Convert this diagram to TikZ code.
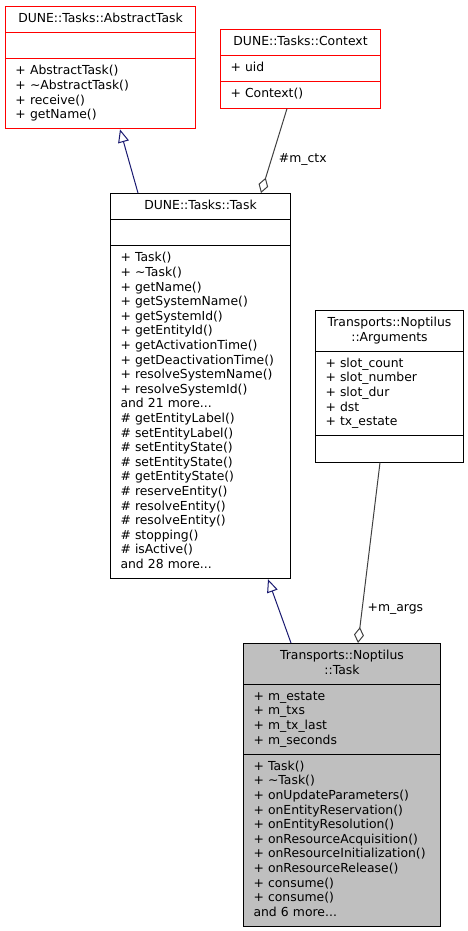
\documentclass[tikz,border=0pt]{standalone}
\usepackage{fontspec}
\setmainfont{DejaVu Sans}
\usepackage{xcolor}
\definecolor{InheritBlue}{HTML}{191970}
\definecolor{UsageGrey}{HTML}{404040}
\definecolor{TruncRed}{HTML}{FF0000}
\definecolor{CurrentGrey}{HTML}{BFBFBF}
\usepackage{tikz}
\usetikzlibrary{shapes.multipart,arrows.meta,positioning}
\newcommand{\tld}{\textasciitilde}
\newcommand{\umltitle}[1]{\centering\strut#1\strut\par}

\begin{document}
\begin{tikzpicture}[
  x=1pt, y=-1pt,
  umlclass/.style={rectangle split, rectangle split parts=3, draw=#1, fill=white,
                   line width=1pt, anchor=north west, inner xsep=10pt, inner ysep=5.3pt,
                   font=\fontsize{12.4}{14.6}\selectfont, align=left},
  umlclass/.default=black,
  inherit/.style={-{Triangle[open, length=13pt, width=11pt]}, line width=1pt, color=InheritBlue},
  usage/.style={{Diamond[open, length=16pt, width=10pt]}-, line width=1pt, color=UsageGrey},
  lbl/.style={font=\fontsize{12.4}{14.6}\selectfont, text=black, inner sep=3pt},
]
  \useasboundingbox (0,0) rectangle (468,931);

  % Base classes
  \node[umlclass=TruncRed, text width=170pt] (abstask) at (5,6)
    {\umltitle{DUNE::Tasks::AbstractTask}
     \nodepart{two}\strut
     \nodepart{three}\strut + AbstractTask()\\+ \tld AbstractTask()\\+ receive()\\+ getName()\strut};
  \node[umlclass=TruncRed, text width=140pt] (ctx) at (220,29)
    {\umltitle{DUNE::Tasks::Context}
     \nodepart{two}\strut + uid\strut
     \nodepart{three}\strut + Context()\strut};

  % Task
  \node[umlclass, text width=160pt] (task) at (110,193)
    {\umltitle{DUNE::Tasks::Task}
     \nodepart{two}\strut
     \nodepart{three}\strut + Task()\\+ \tld Task()\\+ getName()\\+ getSystemName()\\+ getSystemId()\\
     + getEntityId()\\+ getActivationTime()\\+ getDeactivationTime()\\+ resolveSystemName()\\
     + resolveSystemId()\\and 21 more...\\\# getEntityLabel()\\\# setEntityLabel()\\
     \# setEntityState()\\\# setEntityState()\\\# getEntityState()\\\# reserveEntity()\\
     \# resolveEntity()\\\# resolveEntity()\\\# stopping()\\\# isActive()\\and 28 more...\strut};

  % Arguments
  \node[umlclass, text width=128pt] (args) at (315,310)
    {\umltitle{Transports::Noptilus\\::Arguments}
     \nodepart{two}\strut + slot\_count\\+ slot\_number\\+ slot\_dur\\+ dst\\+ tx\_estate\strut
     \nodepart{three}\strut};

  % Current class
  \node[umlclass, fill=CurrentGrey, text width=177pt] (nopt) at (243,643)
    {\umltitle{Transports::Noptilus\\::Task}
     \nodepart{two}\strut + m\_estate\\+ m\_txs\\+ m\_tx\_last\\+ m\_seconds\strut
     \nodepart{three}\strut + Task()\\+ \tld Task()\\+ onUpdateParameters()\\+ onEntityReservation()\\
     + onEntityResolution()\\+ onResourceAcquisition()\\+ onResourceInitialization()\\
     + onResourceRelease()\\+ consume()\\+ consume()\\and 6 more...\strut};

  % Inheritance
  \draw[inherit] ([xshift=28pt]task.north west) -- ([xshift=115pt]abstask.south west);
  \draw[inherit] ([xshift=48pt]nopt.north west) -- ([xshift=158pt]task.south west);

  % Usage
  \draw[usage] ([xshift=151pt]task.north west) -- node[lbl, pos=0.4, right=4pt] {\#m\_ctx} ([xshift=67pt]ctx.south west);
  \draw[usage] ([xshift=115pt]nopt.north west) -- node[lbl, pos=0.19, right=2pt] {+m\_args} ([xshift=65pt]args.south west);
\end{tikzpicture}
\end{document}
